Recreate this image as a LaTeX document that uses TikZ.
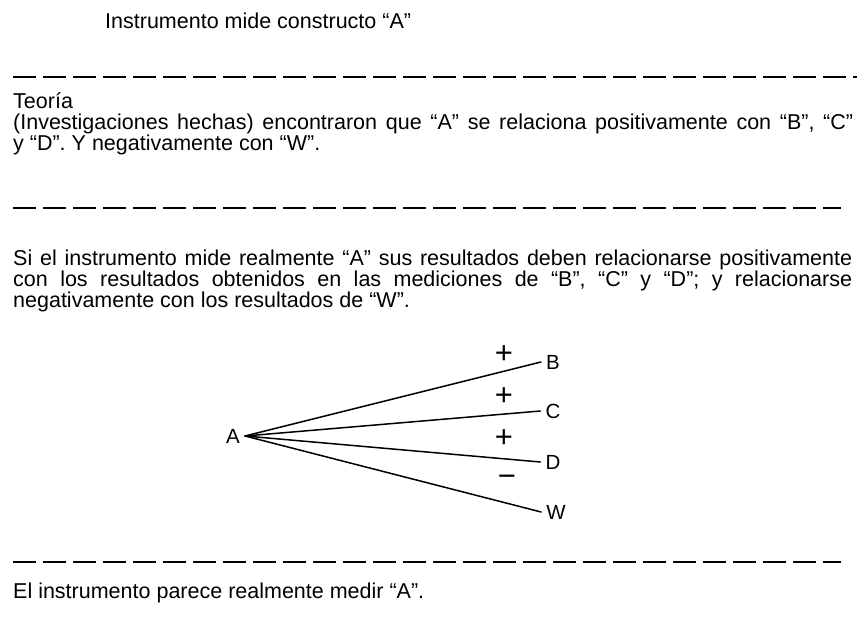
\documentclass[tikz,border=0pt]{standalone}
\usepackage{fontspec}
\setmainfont{Liberation Sans}
\begin{document}
\begin{tikzpicture}[x=1pt,y=-1pt,
  txt/.style={anchor=base west,inner sep=0pt,font=\fontsize{21.5}{22}\selectfont},
  dashline/.style={line width=1.3pt,dash pattern=on 23pt off 7pt},
  lbl/.style={font=\fontsize{20.5}{21}\selectfont,inner sep=5pt},
  conn/.style={line width=1.5pt,line cap=round},
  sign/.style={inner sep=0pt,font=\fontsize{31}{31}\selectfont}]
\useasboundingbox[fill=white] (0,0) rectangle (859,624);
% title
\node[txt] (title) at (105,28) {Instrumento mide constructo “A”};
% dashed separators
\coordinate (d1s) at (13,77);  \coordinate (d1e) at (857,77);
\coordinate (d2s) at (13,208); \coordinate (d2e) at (841,208);
\coordinate (d3s) at (13,562); \coordinate (d3e) at (841,562);
\draw[dashline] (d1s) -- (d1e);
\draw[dashline] (d2s) -- (d2e);
\draw[dashline] (d3s) -- (d3e);
% theory
\node[txt] (teo) at (13,108) {Teoría};
\node[txt] (teo2) at (13,129) {\makebox[840pt][s]{(Investigaciones hechas) encontraron que “A” se relaciona positivamente con “B”, “C”}};
\node[txt] (teo3) at (13,150) {y “D”. Y negativamente con “W”.};
% paragraph
\node[txt] (p1) at (13,265) {\makebox[839pt][s]{Si el instrumento mide realmente “A” sus resultados deben relacionarse positivamente}};
\node[txt] (p2) at (13,286) {\makebox[839pt][s]{con los resultados obtenidos en las mediciones de “B”, “C” y “D”; y relacionarse}};
\node[txt] (p3) at (13,307) {negativamente con los resultados de “W”.};
% diagram
\node[lbl] (A) at (233,436) {A};
\node[lbl] (B) at (553,362) {B};
\node[lbl] (C) at (553,411) {C};
\node[lbl] (D) at (553,462) {D};
\node[lbl] (W) at (556,512) {W};
\draw[conn] (A.east) -- (B.west);
\draw[conn] (A.east) -- (C.west);
\draw[conn] (A.east) -- (D.west);
\draw[conn] (A.east) -- (W.west);
\node[sign] (s1) at (504,355) {+};
\node[sign] (s2) at (504,397) {+};
\node[sign] (s3) at (504,439) {+};
\node[sign] (s4) at (507,481) {−};
% conclusion
\node[txt] (fin) at (13,598) {El instrumento parece realmente medir “A”.};
\end{tikzpicture}
\end{document}
